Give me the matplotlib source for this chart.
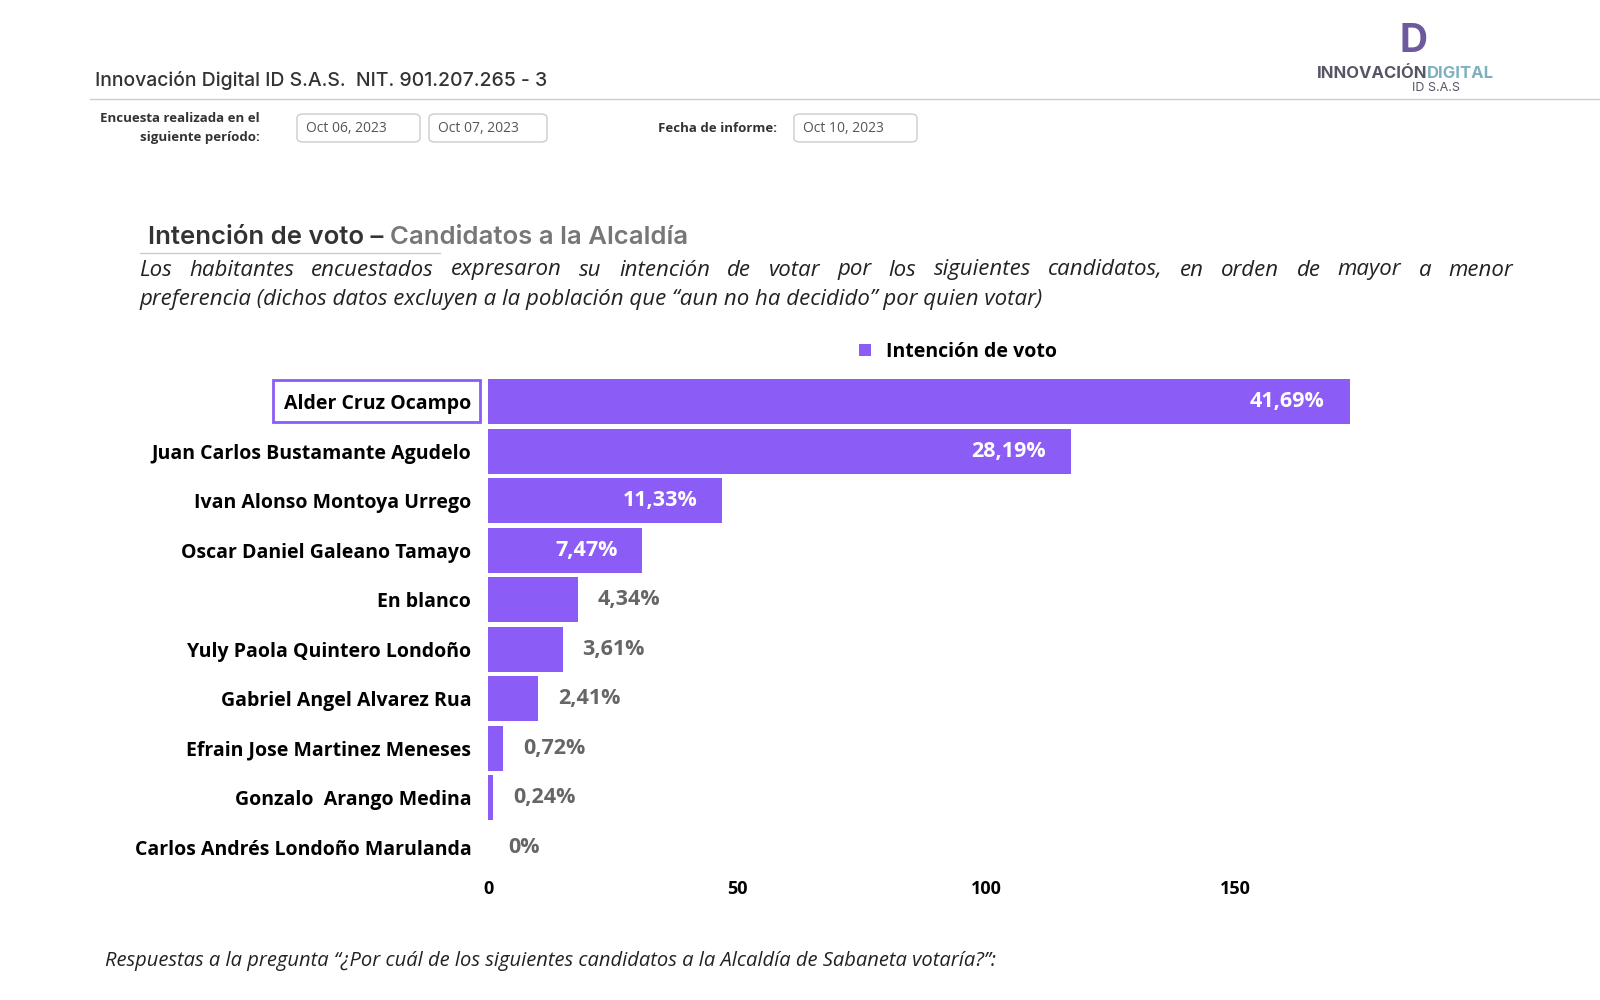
import matplotlib
matplotlib.use("Agg")
import matplotlib.pyplot as plt
from matplotlib.patches import Rectangle, FancyBboxPatch

candidates = ["Alder Cruz Ocampo", "Juan Carlos Bustamante Agudelo", "Ivan Alonso Montoya Urrego",
              "Oscar Daniel Galeano Tamayo", "En blanco", "Yuly Paola Quintero Londoño",
              "Gabriel Angel Alvarez Rua", "Efrain Jose Martinez Meneses", "Gonzalo  Arango Medina",
              "Carlos Andrés Londoño Marulanda"]
votes = [173, 117, 47, 31, 18, 15, 10, 3, 1, 0]
pct_labels = ["41,69%", "28,19%", "11,33%", "7,47%", "4,34%", "3,61%", "2,41%", "0,72%", "0,24%", "0%"]
xticks = [0, 50, 100, 150]

W, H = 1600, 1000
purple = "#8B5CF6"
fig = plt.figure(figsize=(16, 10), dpi=100)
plt.rcParams['font.family'] = ['Open Sans', 'DejaVu Sans']
renderer = fig.canvas.get_renderer()

def fx(x): return x / W
def fy(y): return 1 - y / H

def justified(text, x0, x1, y, **kw):
    # place words so the line fills x0..x1 like justified text
    words = text.split(" ")
    arts = [fig.text(0, fy(y), w, va='center', **kw) for w in words]
    widths = [a.get_window_extent(renderer).width / W for a in arts]
    gap = (fx(x1) - fx(x0) - sum(widths)) / (len(words) - 1)
    x = fx(x0)
    for a, w in zip(arts, widths):
        a.set_x(x)
        x += w + gap

# header
fig.text(fx(95), fy(80), "Innovación Digital ID S.A.S.  NIT. 901.207.265 - 3", family=['Inter', 'DejaVu Sans'],
         fontsize=14, weight='medium', color='#333333', va='center')
fig.add_artist(plt.Line2D([fx(90), fx(1600)], [fy(99), fy(99)], color='#cccccc', lw=1))
fig.text(fx(1427), fy(74), "INNOVACIÓN", family=['Inter', 'DejaVu Sans'], fontsize=12, weight='bold',
         color='#555566', ha='right', va='center')
fig.text(fx(1427), fy(74), "DIGITAL", family=['Inter', 'DejaVu Sans'], fontsize=12, weight='bold',
         color='#7fb0c0', ha='left', va='center')
fig.text(fx(1436), fy(88), "ID S.A.S", family=['Inter', 'DejaVu Sans'], fontsize=9, color='#555566',
         ha='center', va='center')
fig.text(fx(1413), fy(42), "D", family=['Inter', 'DejaVu Sans'], fontsize=28, weight='bold',
         color='#6d5a9e', ha='center', va='center')

fig.text(fx(260), fy(118), "Encuesta realizada en el", fontsize=9.5, weight='bold', color='#333333', ha='right', va='center')
fig.text(fx(260), fy(137), "siguiente período:", fontsize=9.5, weight='bold', color='#333333', ha='right', va='center')
fig.text(fx(777), fy(128), "Fecha de informe:", fontsize=9.5, weight='bold', color='#333333', ha='right', va='center')
for x0, x1, t in [(297, 420, "Oct 06, 2023"), (429, 547, "Oct 07, 2023"), (794, 917, "Oct 10, 2023")]:
    fig.add_artist(FancyBboxPatch((fx(x0), fy(142)), fx(x1 - x0), 28 / H, boxstyle="round,pad=0,rounding_size=0.004",
                                  fc='white', ec='#cccccc', lw=1, transform=fig.transFigure))
    fig.text(fx(x0 + 9), fy(128), t, fontsize=10, color='#555555', va='center')

t1 = fig.text(fx(148), fy(237), "Intención de voto – ", family=['Inter', 'DejaVu Sans'], fontsize=18.5,
              weight='semibold', color='#333333', va='center')
w1 = t1.get_window_extent(renderer).width / W
fig.text(fx(148) + w1, fy(237), "Candidatos a la Alcaldía", family=['Inter', 'DejaVu Sans'], fontsize=18.5,
         weight='semibold', color='#777777', va='center')
fig.add_artist(plt.Line2D([fx(140), fx(440)], [fy(253), fy(253)], color='#cccccc', lw=1))
justified("Los habitantes encuestados expresaron su intención de votar por los siguientes candidatos, en orden de mayor a menor",
          139, 1513, 270, fontsize=16, style='italic', color='#222222')
fig.text(fx(139), fy(300), "preferencia (dichos datos excluyen a la población que “aun no ha decidido” por quien votar)",
         fontsize=16, style='italic', color='#222222', va='center')

# chart
ax = fig.add_axes([fx(488), fy(872), fx(1000), (872 - 377) / H])
y = list(range(len(candidates)))
ax.barh(y, votes, height=0.9, color=purple, label="Intención de voto")
ax.set_ylim(len(candidates) - 0.5, -0.5)
ax.set_xlim(0, 200.8)
ax.set_xticks(xticks)
ax.set_xticklabels([str(t) for t in xticks], fontsize=13, weight='bold')
ax.set_yticks(y)
ax.set_yticklabels(candidates, fontsize=14, weight='bold')
ax.tick_params(axis='y', length=0, pad=12)
ax.tick_params(axis='x', length=0, pad=6)
for s in ax.spines.values():
    s.set_visible(False)
for i, (v, p) in enumerate(zip(votes, pct_labels)):
    if v > 25:
        ax.text(v - 5, i, p, ha='right', va='center', fontsize=15.5, weight='bold', color='white')
    else:
        ax.text(v + 4, i, p, ha='left', va='center', fontsize=15.5, weight='bold', color='#666666')
ax.legend(loc='lower center', bbox_to_anchor=(0.47, 0.995), frameon=False,
          prop={'weight': 'bold', 'size': 14}, handlelength=0.6, handleheight=0.6)
fig.add_artist(Rectangle((fx(273), fy(422)), fx(207), 42 / H, fill=False, ec=purple, lw=2,
                         transform=fig.transFigure))

fig.text(fx(105), fy(961), "Respuestas a la pregunta “¿Por cuál de los siguientes candidatos a la Alcaldía de Sabaneta votaría?”:",
         fontsize=14.5, style='italic', color='#222222', va='center')

fig.savefig("out.png", dpi=100, facecolor='white')
